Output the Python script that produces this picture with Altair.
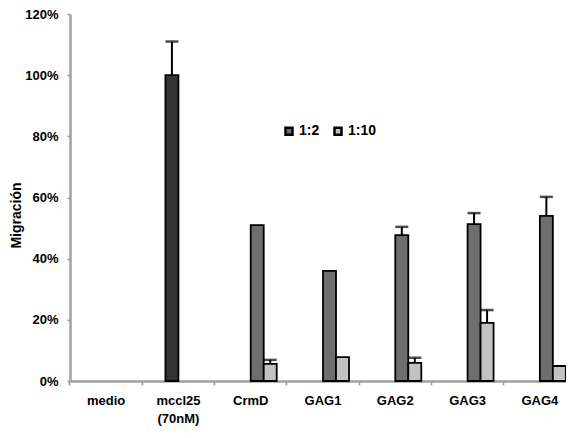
import altair as alt
import pandas as pd

categories = ["medio", "mccl25|(70nM)", "CrmD", "GAG1", "GAG2", "GAG3", "GAG4"]
series_order = ["ctrl", "mccl", "1:2", "1:10"]

bar_cat = ["mccl25|(70nM)", "CrmD", "GAG1", "GAG2", "GAG3", "GAG4",
           "CrmD", "GAG1", "GAG2", "GAG3", "GAG4"]
bar_series = ["mccl", "1:2", "1:2", "1:2", "1:2", "1:2",
              "1:10", "1:10", "1:10", "1:10", "1:10"]
bar_value = [100, 51, 36, 47.7, 51.3, 54, 5.6, 7.8, 5.9, 19, 4.9]

err_cat = ["mccl25|(70nM)", "GAG2", "GAG3", "GAG4", "CrmD", "GAG2", "GAG3"]
err_series = ["mccl", "1:2", "1:2", "1:2", "1:10", "1:10", "1:10"]
err_low = [100, 47.7, 51.3, 54, 5.6, 5.9, 19]
err_high = [111, 50.4, 54.9, 60.2, 6.9, 7.6, 23.2]

bars = pd.DataFrame({"cat": bar_cat, "series": bar_series, "value": bar_value})
errs = pd.DataFrame({"cat": err_cat, "series": err_series, "lo": err_low, "hi": err_high})

FONT = "Liberation Sans"

x_enc = alt.X("cat:N", scale=alt.Scale(domain=categories, range=[0, 506],
                                       paddingInner=0, paddingOuter=0),
              sort=categories,
              axis=alt.Axis(title=None, labelAngle=0, labelFont=FONT, labelFontSize=13,
                            labelFontWeight="bold", labelColor="black",
                            labelExpr="split(datum.value, '|')", labelLineHeight=18,
                            labelPadding=9, tickSize=4, tickColor="#999999", tickWidth=1.5,
                            bandPosition=0, domainColor="#a0a0a0", domainWidth=2.5))
xoff = alt.XOffset("series:N", scale=alt.Scale(domain=series_order, paddingOuter=0.78,
                                               paddingInner=0))

y_scale = alt.Scale(domain=[0, 120], nice=False, zero=True)

fill = alt.Fill("series:N",
                scale=alt.Scale(domain=series_order,
                                range=["#888888", "#333333", "#6e6e6e", "#c2c2c2"]),
                legend=alt.Legend(values=["1:2", "1:10"], title=None, orient="none",
                                  legendX=212, legendY=110, direction="horizontal",
                                  symbolType="square", symbolSize=49,
                                  symbolStrokeColor="black", symbolStrokeWidth=2.5,
                                  labelFont=FONT, labelFontSize=14, labelFontWeight="bold",
                                  labelColor="black", labelOffset=3, columnPadding=9,
                                  padding=0))

bar_layer = alt.Chart(bars).mark_bar(stroke="black", strokeWidth=1.8, fillOpacity=1).encode(
    x=x_enc,
    xOffset=xoff,
    y=alt.Y("value:Q", scale=y_scale,
            axis=alt.Axis(title="Migración", titleFont=FONT, titleFontSize=14,
                          titleFontWeight="bold", titleColor="black",
                          titleX=-54, titleY=201, titleBaseline="middle", titleAngle=-90,
                          values=[0, 20, 40, 60, 80, 100, 120],
                          labelExpr="datum.value + '%'", labelFont=FONT, labelFontSize=13,
                          labelFontWeight="bold", labelColor="black", labelPadding=9,
                          tickSize=3, tickColor="#999999", tickWidth=1.5,
                          domainColor="#a0a0a0", domainWidth=2.5, grid=False)),
    fill=fill,
)

err_rule = alt.Chart(errs).mark_rule(color="black", strokeWidth=2).encode(
    x=alt.X("cat:N", sort=categories), xOffset=alt.XOffset("series:N"),
    y=alt.Y("lo:Q"), y2="hi:Q")

err_cap = alt.Chart(errs).mark_tick(color="black", thickness=2.5, size=13,
                                    orient="horizontal").encode(
    x=alt.X("cat:N", sort=categories), xOffset=alt.XOffset("series:N"),
    y=alt.Y("hi:Q"))

chart = alt.layer(bar_layer, err_rule, err_cap).properties(
    width=496, height=367,
    autosize=alt.AutoSizeParams(type="none"),
    padding={"left": 62, "top": 6, "right": 0, "bottom": 57},
    background="white",
).configure_view(stroke=None)

chart.save("out.html", embed_options={"renderer": "svg", "actions": False})
